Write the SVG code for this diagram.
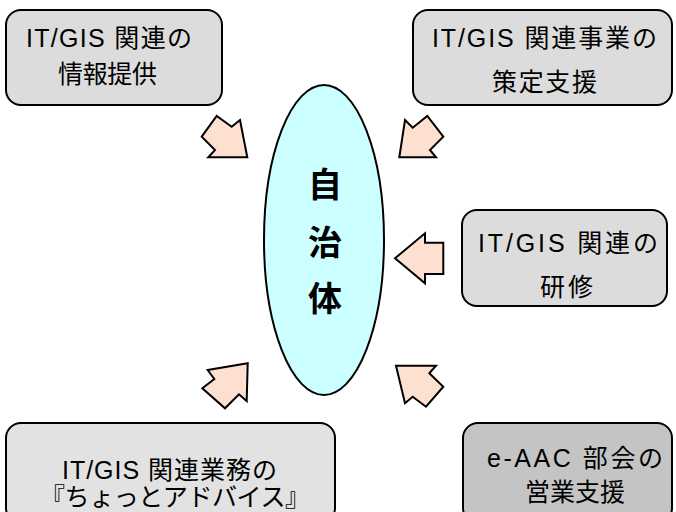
<svg xmlns="http://www.w3.org/2000/svg" width="676" height="512" viewBox="0 0 676 512">
<defs>
<style>
.box{stroke:#000;stroke-width:2;}
.lt{fill:#dcdcdc;}
.dk{fill:#c4c4c4;}
.gr{fill:#e2e2e2;}
.arr{fill:#fde0cf;stroke:#000;stroke-width:2;stroke-linejoin:miter;}
.t{font-family:"Liberation Sans","Noto Sans CJK JP",sans-serif;font-size:25px;fill:#000;}
.c{font-family:"Noto Sans CJK JP","Liberation Sans",sans-serif;font-size:34px;font-weight:bold;fill:#000;text-anchor:middle;}
</style>
</defs>
<rect width="676" height="512" fill="#fff"/>
<g id="center">
<ellipse cx="324" cy="240" rx="60" ry="155" fill="#ccffff" stroke="#000" stroke-width="2"/>
<text class="c" x="325" y="197">自</text>
<text class="c" x="325" y="255">治</text>
<text class="c" x="325" y="311">体</text>
</g>
<g id="box-info">
<rect class="box lt" x="6" y="10" width="216" height="95" rx="15"/>
<text class="t" x="26" y="47" textLength="166" lengthAdjust="spacing">IT/GIS 関連の</text>
<text class="t" x="58" y="83" textLength="99" lengthAdjust="spacing">情報提供</text>
</g>
<g id="box-plan">
<rect class="box lt" x="413" y="10" width="259" height="95" rx="15"/>
<text class="t" x="432" y="47" textLength="225" lengthAdjust="spacing">IT/GIS 関連事業の</text>
<text class="t" x="492" y="91" textLength="105" lengthAdjust="spacing">策定支援</text>
</g>
<g id="box-training">
<rect class="box lt" x="462" y="210" width="205" height="96" rx="15"/>
<text class="t" x="478" y="252" textLength="180" lengthAdjust="spacing">IT/GIS 関連の</text>
<text class="t" x="540" y="296" textLength="53" lengthAdjust="spacing">研修</text>
</g>
<g id="box-advice">
<rect class="box gr" x="6" y="423" width="329" height="100" rx="15"/>
<text class="t" x="62" y="479" textLength="215" lengthAdjust="spacing">IT/GIS 関連業務の</text>
<text class="t" x="40" y="506" textLength="270" lengthAdjust="spacing">『ちょっとアドバイス』</text>
</g>
<g id="box-sales">
<rect class="box dk" x="463" y="423" width="209" height="100" rx="15"/>
<text class="t" x="487" y="467" textLength="176" lengthAdjust="spacing">e-AAC 部会の</text>
<text class="t" x="525" y="501" textLength="100" lengthAdjust="spacing">営業支援</text>
</g>
<g id="connectors">
<polygon class="arr" points="201.7,136.7 216.7,116 231.7,126.7 240,120 247.3,157.3 208.3,157.3 215,150"/>
<polygon class="arr" points="405,120 412.7,127.7 427.3,116 443.3,136.7 430,150 436,157.3 399.3,157.3"/>
<polygon class="arr" points="395,258.3 425,233.3 425,242.7 443.3,242.7 443.3,274 425,274 425,283.3"/>
<polygon class="arr" points="247.7,363.3 246.7,401 239,394.3 225,408.3 202.3,388.3 214.3,379 207.7,370"/>
<polygon class="arr" points="396,365.7 436,365.7 429.3,373.3 443.3,386.7 426,406.7 412.7,396.7 405,403.3"/>
</g>
</svg>
